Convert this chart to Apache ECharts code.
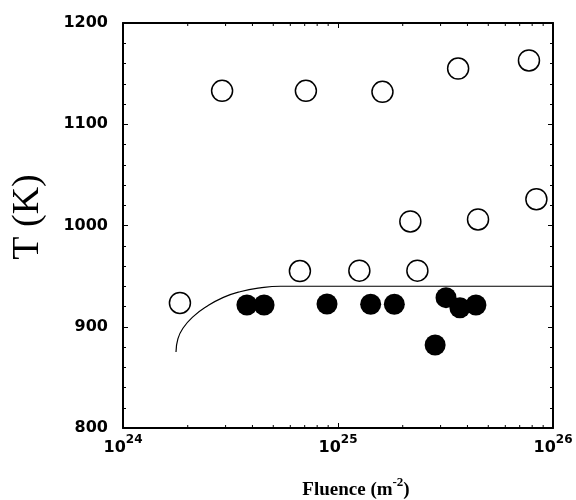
<!DOCTYPE html>
<html>
<head>
<meta charset="utf-8">
<script src="https://cdn.jsdelivr.net/npm/echarts@6/dist/echarts.min.js"></script>
<style>html,body{margin:0;padding:0;background:#fff;}#c{width:576px;height:500px;}</style>
</head>
<body>
<div id="c"></div>
<script>
// Open circles: [fluence (m^-2), T (K)]
const openPoints = [
  [1.84e24, 923.5], [6.65e24, 955], [1.257e25, 955.4], [2.34e25, 955.4],
  [2.89e24, 1133], [7.09e24, 1133], [1.61e25, 1132], [3.62e25, 1155],
  [7.73e25, 1163], [8.37e25, 1026], [2.17e25, 1004], [4.48e25, 1006]
];
// Filled circles
const filledPoints = [
  [3.77e24, 921.5], [4.53e24, 921.5], [8.89e24, 922.5], [1.419e25, 922.2],
  [1.828e25, 922.2], [3.18e25, 928.7], [3.69e25, 918.8], [4.38e25, 921.5],
  [2.83e25, 882]
];
// Curve
const curvePoints = [
  [1.764e24, 875], [1.80e24, 888], [1.90e24, 898.5], [2.12e24, 910],
  [2.45e24, 920], [2.93e24, 929], [3.50e24, 934.6], [4.34e24, 938.4],
  [5.4e24, 940], [1e26, 940]
];
const xMinorTicks = [2e24,3e24,4e24,5e24,6e24,7e24,8e24,9e24,2e25,3e25,4e25,5e25,6e25,7e25,8e25,9e25];
const yTicks = [800, 900, 1000, 1100, 1200];
const xTickExponents = [24, 25, 26];

const chart = echarts.init(document.getElementById('c'), null, {renderer:'canvas'});
const axisLineStyle = {color:'#000', width:2};
const xLabelFmt = function(v){
  const e = Math.round(Math.log10(v));
  const lab = xTickExponents.indexOf(e) >= 0 ? String(e) : String(e);
  return '{b|10}{s|' + lab + '}';
};
const option = {
  animation:false,
  backgroundColor:'#fff',
  grid:{left:123, right:23, top:23, bottom:72, containLabel:false},
  xAxis:[
    {type:'log', logBase:10, min:1e24, max:1e26, position:'bottom',
     axisLine:{show:true, onZero:false, lineStyle:axisLineStyle},
     axisTick:{show:true, inside:true, length:5, lineStyle:{color:'#000', width:1}},
     splitLine:{show:false}, minorTick:{show:false},
     axisLabel:{margin:6, formatter:xLabelFmt,
       rich:{b:{fontFamily:'DejaVu Sans', fontWeight:'bold', fontSize:16, color:'#000', lineHeight:22, verticalAlign:'bottom'},
             s:{fontFamily:'DejaVu Sans', fontWeight:'bold', fontSize:12, color:'#000', lineHeight:12, verticalAlign:'top'}}}},
    {type:'log', logBase:10, min:1e24, max:1e26, position:'top',
     axisLine:{show:true, onZero:false, lineStyle:axisLineStyle},
     axisTick:{show:true, inside:true, length:5, lineStyle:{color:'#000', width:1}},
     axisLabel:{show:false}, splitLine:{show:false}}
  ],
  yAxis:[
    {type:'value', min:yTicks[0], max:yTicks[yTicks.length-1], interval:100, position:'left',
     axisLine:{show:true, onZero:false, lineStyle:axisLineStyle},
     axisTick:{show:true, inside:true, length:5, lineStyle:{color:'#000', width:1}},
     minorTick:{show:true, splitNumber:5, length:3, lineStyle:{color:'#000', width:1}},
     splitLine:{show:false},
     axisLabel:{margin:15, color:'#000', fontFamily:'DejaVu Sans', fontWeight:'bold', fontSize:16, padding:[0,0,10,0],
       formatter:function(v){ return String(v); }}},
    {type:'value', min:yTicks[0], max:yTicks[yTicks.length-1], interval:100, position:'right',
     axisLine:{show:true, onZero:false, lineStyle:axisLineStyle},
     axisTick:{show:true, inside:true, length:5, lineStyle:{color:'#000', width:1}},
     minorTick:{show:true, splitNumber:5, length:3, lineStyle:{color:'#000', width:1}},
     splitLine:{show:false}, axisLabel:{show:false}}
  ],
  series:[
    {type:'custom', xAxisIndex:0, yAxisIndex:0, silent:true, clip:false,
     data:xMinorTicks.map(v=>[v, yTicks[0]]),
     renderItem:function(params, api){
       const v = api.value(0);
       const pb = api.coord([v, yTicks[0]]);
       const pt = api.coord([v, yTicks[yTicks.length-1]]);
       return {type:'group', children:[
         {type:'line', shape:{x1:pb[0], y1:pb[1], x2:pb[0], y2:pb[1]-3}, style:{stroke:'#000', lineWidth:1}},
         {type:'line', shape:{x1:pt[0], y1:pt[1], x2:pt[0], y2:pt[1]+3}, style:{stroke:'#000', lineWidth:1}}
       ]};
     }},
    {type:'line', data:curvePoints, smooth:0.5, showSymbol:false,
     lineStyle:{color:'#000', width:1.2}, silent:true, z:2},
    {type:'scatter', data:openPoints, symbol:'circle', symbolSize:21,
     itemStyle:{color:'#fff', borderColor:'#000', borderWidth:1.5, opacity:1}, z:3},
    {type:'scatter', data:filledPoints, symbol:'circle', symbolSize:21,
     itemStyle:{color:'#000', opacity:1}, z:4}
  ],
  graphic:[
    {type:'text', x:28, y:217, rotation:Math.PI/2,
     style:{text:'T (K)', fontFamily:'Liberation Serif', fontSize:38, fill:'#000', textAlign:'center', textVerticalAlign:'middle'}},
    {type:'text', x:356, y:488,
     style:{text:'{a|Fluence (m}{s|-2}{a|)}', textAlign:'center', textVerticalAlign:'middle', fill:'#000',
       rich:{a:{fontFamily:'Liberation Serif', fontWeight:'bold', fontSize:19, lineHeight:24, verticalAlign:'bottom', fill:'#000'},
             s:{fontFamily:'Liberation Serif', fontWeight:'bold', fontSize:13, lineHeight:13, verticalAlign:'top', fill:'#000'}}}}
  ]
};
chart.setOption(option);
</script>
</body>
</html>
